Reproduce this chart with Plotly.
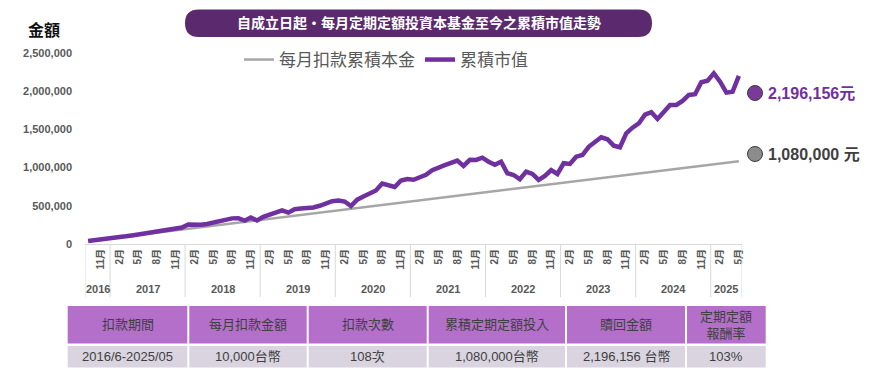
import plotly.graph_objects as go
import pandas as pd

# The page body has an 8px margin, so the figure is drawn 8px smaller and
# reference-pixel coordinates are shifted by OFF.
OFF = 8
W, H = 870 - OFF, 379 - OFF

# ---------------- data ----------------
months = pd.period_range("2016-09", "2025-05", freq="M")
month_idx = list(range(len(months)))

principal = [
    40000, 50000, 60000, 70000, 80000, 90000, 100000, 110000, 120000, 130000,
    140000, 150000, 160000, 170000, 180000, 190000, 200000, 210000, 220000, 230000,
    240000, 250000, 260000, 270000, 280000, 290000, 300000, 310000, 320000, 330000,
    340000, 350000, 360000, 370000, 380000, 390000, 400000, 410000, 420000, 430000,
    440000, 450000, 460000, 470000, 480000, 490000, 500000, 510000, 520000, 530000,
    540000, 550000, 560000, 570000, 580000, 590000, 600000, 610000, 620000, 630000,
    640000, 650000, 660000, 670000, 680000, 690000, 700000, 710000, 720000, 730000,
    740000, 750000, 760000, 770000, 780000, 790000, 800000, 810000, 820000, 830000,
    840000, 850000, 860000, 870000, 880000, 890000, 900000, 910000, 920000, 930000,
    940000, 950000, 960000, 970000, 980000, 990000, 1000000, 1010000, 1020000, 1030000,
    1040000, 1050000, 1060000, 1070000, 1080000,
]

market_value = [
    40000, 48000, 57000, 68000, 80000, 90000, 100000, 112000, 125000, 137000,
    148000, 160000, 172000, 185000, 198000, 215000, 255000, 250000, 252000, 262000,
    280000, 292000, 318000, 335000, 337000, 305000, 345000, 308000, 355000, 385000,
    410000, 440000, 410000, 455000, 465000, 470000, 478000, 500000, 532000, 560000,
    568000, 555000, 495000, 580000, 620000, 660000, 700000, 790000, 760000, 745000,
    830000, 850000, 840000, 870000, 905000, 965000, 990000, 1030000, 1060000, 1090000,
    1020000, 1100000, 1098000, 1128000, 1075000, 1035000, 1076000, 925000, 902000, 846000,
    945000, 915000, 837000, 889000, 967000, 915000, 1055000, 1046000, 1141000, 1163000,
    1270000, 1330000, 1395000, 1369000, 1285000, 1264000, 1447000, 1520000, 1575000, 1690000,
    1722000, 1634000, 1720000, 1817000, 1817000, 1870000, 1948000, 1957000, 2114000, 2135000,
    2231000, 2122000, 1978000, 1991000, 2196156,
]

y_ticks = [0, 500000, 1000000, 1500000, 2000000, 2500000]

table_header = ["扣款期間", "每月扣款金額", "扣款次數", "累積定期定額投入", "贖回金額", "定期定額<br>報酬率"]
table_row = ["2016/6-2025/05", "10,000台幣", "108次", "1,080,000台幣", "2,196,156 台幣", "103%"]
table_colwidth = [121.6, 119.4, 120, 138.3, 120, 80.7]

title_text = "自成立日起‧每月定期定額投資本基金至今之累積市值走勢"
series_names = ["每月扣款累積本金", "累積市值"]

# ---------------- helpers (reference pixel -> paper) ----------------
def px(x):
    return (x - OFF) / W

def py(y):
    return 1 - (y - OFF) / H

FONT = "Arial, 'Liberation Sans', 'Noto Sans CJK TC', sans-serif"
PURPLE = "#7030A0"
GRAY = "#A6A6A6"
TXT = "#595959"
TBL_TXT = "#3F3F3F"

fig = go.Figure()

fig.add_trace(go.Scatter(
    x=month_idx, y=principal, mode="lines", name=series_names[0],
    line=dict(color=GRAY, width=2.5), hoverinfo="skip",
))
fig.add_trace(go.Scatter(
    x=month_idx, y=market_value, mode="lines", name=series_names[1],
    line=dict(color=PURPLE, width=4.5), hoverinfo="skip",
))

# month ticks (Feb/May/Aug/Nov)
tickvals = [i for i, m in enumerate(months) if m.month in (2, 5, 8, 11)]
ticktext = [f"{months[i].month}月" for i in tickvals]

shapes = []
annotations = []

def note(x, y, text, font, xref="paper", xanchor="center"):
    annotations.append(dict(x=x, y=y, xref=xref, yref="paper", text=text, showarrow=False,
                            xanchor=xanchor, yanchor="middle", font=font))

# ---------------- table (cells from the arrays) ----------------
tx0, tx1 = 66.7, 766.7
scale = (tx1 - tx0) / sum(table_colwidth)
hdr_top, hdr_bot = 306, 343.5
row_top, row_bot = 346, 367.5
xl = tx0
tfont = dict(family=FONT, size=13, color=TBL_TXT)
for head, cell, cw in zip(table_header, table_row, table_colwidth):
    xr = xl + cw * scale
    shapes.append(dict(type="rect", xref="paper", yref="paper", layer="below",
                       x0=px(xl + 1), x1=px(xr - 1), y0=py(hdr_bot), y1=py(hdr_top),
                       fillcolor="#B36FC9", line=dict(width=0)))
    shapes.append(dict(type="rect", xref="paper", yref="paper", layer="below",
                       x0=px(xl + 1), x1=px(xr - 1), y0=py(row_bot), y1=py(row_top),
                       fillcolor="#D9D4DF", line=dict(width=0)))
    note(px((xl + xr) / 2), py((hdr_top + hdr_bot) / 2), head, tfont)
    note(px((xl + xr) / 2), py((row_top + row_bot) / 2), cell, tfont)
    xl = xr

# year separators and year labels
years = sorted(set(m.year for m in months))
bounds = [-0.5]
for yv in years:
    idxs = [i for i, m in enumerate(months) if m.year == yv]
    lo, hi = idxs[0] - 0.5, idxs[-1] + 0.5
    bounds.append(hi)
    note((lo + hi) / 2, py(289), str(yv),
         dict(family=FONT, size=11, color=TXT, weight="bold"), xref="x")
for b in bounds:
    shapes.append(dict(type="line", xref="x", yref="paper", x0=b, x1=b,
                       y0=py(244), y1=py(297), line=dict(color="#D9D9D9", width=1)))

# title pill
x0, x1, y0, y1 = 185, 652, 9.5, 37
r = (y1 - y0) / 2
path = (f"M {px(x0 + r)},{py(y0)} L {px(x1 - r)},{py(y0)} "
        f"Q {px(x1)},{py(y0)} {px(x1)},{py(y0 + r)} "
        f"Q {px(x1)},{py(y1)} {px(x1 - r)},{py(y1)} "
        f"L {px(x0 + r)},{py(y1)} "
        f"Q {px(x0)},{py(y1)} {px(x0)},{py(y0 + r)} "
        f"Q {px(x0)},{py(y0)} {px(x0 + r)},{py(y0)} Z")
shapes.append(dict(type="path", xref="paper", yref="paper", path=path,
                   fillcolor="#5B2A6E", line=dict(width=0)))
note(px((x0 + x1) / 2), py((y0 + y1) / 2), title_text,
     dict(family=FONT, size=14, color="white", weight="bold"))

# y-axis title
note(px(44), py(30), "金額", dict(family=FONT, size=16, color="#111111", weight="bold"))

# end labels
end_labels = [
    (f"{market_value[-1]:,}元", "#7B3A9A", PURPLE, 93),
    (f"{principal[-1]:,} 元", "#8C8C8C", "#404040", 154),
]
for txt, dot, tcol, yy in end_labels:
    shapes.append(dict(type="circle", xref="paper", yref="paper",
                       x0=px(747.5), x1=px(762.5), y0=py(yy + 7.5), y1=py(yy - 7.5),
                       fillcolor=dot, line=dict(color="#3A3A3A", width=1)))
    note(px(766), py(yy), txt, dict(family=FONT, size=16, color=tcol, weight="bold"),
         xanchor="left")

fig.update_layout(
    width=W, height=H,
    margin=dict(l=0, r=0, t=0, b=0, pad=0),
    paper_bgcolor="white", plot_bgcolor="white",
    template="none",
    font=dict(family=FONT, color=TXT),
    showlegend=True,
    legend=dict(orientation="h", x=px(239), y=py(42), xanchor="left", yanchor="top",
                font=dict(family=FONT, size=17, color=TXT), bgcolor="rgba(0,0,0,0)",
                itemwidth=30, traceorder="normal"),
    xaxis=dict(domain=[px(85), px(742)], range=[-0.5, len(months) - 0.5],
               tickvals=tickvals, ticktext=ticktext, tickangle=-90,
               tickfont=dict(family=FONT, size=10, color=TXT, weight="bold"),
               showgrid=False, zeroline=False, showline=True, linecolor="#D9D9D9",
               linewidth=1, ticks="", automargin=False, fixedrange=True),
    yaxis=dict(domain=[py(244), py(52.7)], range=[0, 2500000],
               tickvals=y_ticks, tickformat=",", showgrid=False, zeroline=False,
               showline=False, ticks="", ticklabelstandoff=12,
               tickfont=dict(family=FONT, size=11, color=TXT, weight="bold"),
               automargin=False, fixedrange=True),
    shapes=shapes, annotations=annotations,
)

fig.write_html("out.html")
